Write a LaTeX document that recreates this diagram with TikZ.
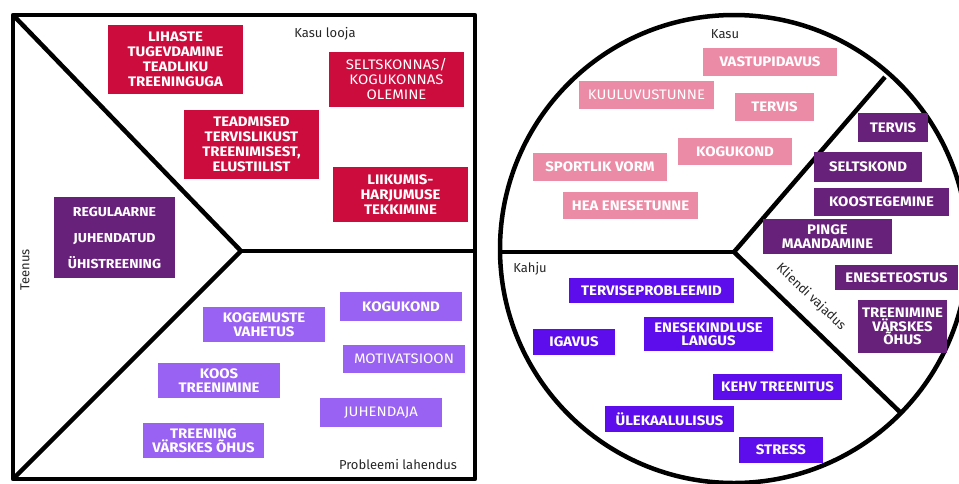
\documentclass[tikz,border=0pt]{standalone}
\usepackage{fontspec}
\setmainfont{Fira Sans}
\newfontfamily\boxfont{Fira Sans}[FakeStretch=1.08]

\begin{document}
\begin{tikzpicture}[x=1pt, y=-1pt,
  frame/.style={line width=4.5pt, black, line join=round},
  boxsize/.style 2 args={minimum width=#1pt, minimum height=#2pt},
  box/.style={inner sep=0pt, align=center, text=white, font=\boxfont\fontsize{13.8}{13.5}\selectfont\bfseries},
  thinbox/.style={box, font=\boxfont\fontsize{13.8}{15}\selectfont},
  tallbox/.style={box, font=\boxfont\fontsize{13.8}{15}\selectfont\bfseries},
  redbox/.style={box, fill=kasured},
  darkbox/.style={box, fill=darkpurple},
  lavbox/.style={box, fill=lavender},
  pinkbox/.style={box, fill=softpink},
  violetbox/.style={box, fill=violet},
  lbl/.style={font=\fontsize{13}{15}\selectfont, text=black!85}]

\definecolor{kasured}{RGB}{204, 12, 60}
\definecolor{darkpurple}{RGB}{104, 33, 122}
\definecolor{lavender}{RGB}{153, 98, 242}
\definecolor{softpink}{RGB}{236, 139, 165}
\definecolor{violet}{RGB}{93, 13, 236}

\path[use as bounding box] (0,0) rectangle (959,483);
\clip (0,0) rectangle (959,483);

% left: value proposition square
\coordinate (tl) at (13,15);
\coordinate (bl) at (13,479);
\coordinate (br) at (475,479);
\coordinate (vtx) at (241,251);
\coordinate (rmid) at (475,251);

\draw[frame] (tl) rectangle (br);
\draw[frame] (tl) -- (vtx) -- (bl);
\draw[frame] (vtx) -- (rmid);

\node[lbl] (kasulooja) at (325,34) {Kasu looja};
\node[lbl, rotate=90] (teenus) at (25,270) {Teenus};
\node[lbl] (probleemi) at (398,464) {Probleemi lahendus};

\node[redbox, tallbox, boxsize={135}{69}] (lihaste) at (175.5,59.5) {LIHASTE\\TUGEVDAMINE\\TEADLIKU\\TREENINGUGA};
\node[redbox, thinbox, boxsize={135}{55}] (seltskonnas) at (396.5,79.5) {SELTSKONNAS/\\KOGUKONNAS\\OLEMINE};
\node[redbox, tallbox, boxsize={135}{69}] (teadmised) at (251.5,144.5) {TEADMISED\\TERVISLIKUST\\TREENIMISEST,\\ELUSTIILIST};
\node[redbox, tallbox, boxsize={135}{55}] (liikumis) at (400.5,194.5) {LIIKUMIS-\\HARJUMUSE\\TEKKIMINE};

\node[darkbox, boxsize={121}{81}, font=\boxfont\fontsize{13}{26}\selectfont\bfseries] (regulaarne) at (114.5,237.5) {REGULAARNE\\JUHENDATUD\\ÜHISTREENING};

\node[lavbox, boxsize={122}{35}] (kogemuste) at (264,324.5) {KOGEMUSTE\\VAHETUS};
\node[lavbox, boxsize={122}{29}] (kogukondl) at (401,306.5) {KOGUKOND};
\node[lavbox, thinbox, boxsize={122}{28}] (motivatsioon) at (404,359) {MOTIVATSIOON};
\node[lavbox, boxsize={122}{35}] (koos) at (219,380.5) {KOOS\\TREENIMINE};
\node[lavbox, thinbox, boxsize={122}{29}] (juhendaja) at (381,412.5) {JUHENDAJA};
\node[lavbox, boxsize={121}{35}] (treening) at (203.5,440.5) {TREENING\\VÄRSKES ÕHUS};

% right: value map circle
\coordinate (ctr) at (734,249);
\coordinate (cvtx) at (734,252);
\coordinate (cw) at (502,252);
\coordinate (cne) at (885,77);
\coordinate (cse) at (902,414);

\draw[frame] (ctr) circle[radius=234pt];
\draw[frame] (cw) -- (cvtx);
\draw[frame] (cvtx) -- (cne);
\draw[frame] (cvtx) -- (cse);

\node[lbl] (kasu) at (725,34) {Kasu};
\node[lbl] (kahju) at (530,269) {Kahju};
\node[lbl, rotate=-43.5] (kliendi) at (811,297) {Kliendi vajadus};

\node[pinkbox, boxsize={134}{28}] (vastupidavus) at (770,62) {VASTUPIDAVUS};
\node[pinkbox, thinbox, boxsize={135}{28}] (kuuluvus) at (646.5,95) {KUULUVUSTUNNE};
\node[pinkbox, boxsize={79}{28}] (tervisp) at (774.5,107) {TERVIS};
\node[pinkbox, boxsize={114}{27}] (kogukondp) at (735,151.5) {KOGUKOND};
\node[pinkbox, boxsize={134}{28}] (sportlik) at (600,167) {SPORTLIK VORM};
\node[pinkbox, boxsize={135}{27}] (hea) at (630.5,205.5) {HEA ENESETUNNE};

\node[darkbox, boxsize={70}{29}] (tervisd) at (893,127.5) {TERVIS};
\node[darkbox, boxsize={108}{30}] (seltskond) at (868,167) {SELTSKOND};
\node[darkbox, boxsize={135}{28}] (koostegemine) at (881.5,202) {KOOSTEGEMINE};
\node[darkbox, boxsize={129}{35}] (pinge) at (827.5,236.5) {PINGE\\MAANDAMINE};
\node[darkbox, boxsize={123}{25}] (eneseteostus) at (896.5,277.5) {ENESETEOSTUS};
\node[darkbox, boxsize={89}{53}] (treenimine) at (902.5,326.5) {TREENIMINE\\VÄRSKES\\ÕHUS};

\node[violetbox, boxsize={165}{25}] (terviseprob) at (651.5,290.5) {TERVISEPROBLEEMID};
\node[violetbox, boxsize={82}{26}] (igavus) at (574,342) {IGAVUS};
\node[violetbox, boxsize={129}{34}] (enesekindlus) at (708.5,334) {ENESEKINDLUSE\\LANGUS};
\node[violetbox, boxsize={129}{26}] (kehv) at (777.5,387) {KEHV TREENITUS};
\node[violetbox, boxsize={129}{26}] (ylekaal) at (669.5,419) {ÜLEKAALULISUS};
\node[violetbox, boxsize={84}{26}] (stress) at (781,450) {STRESS};

\end{tikzpicture}
\end{document}
